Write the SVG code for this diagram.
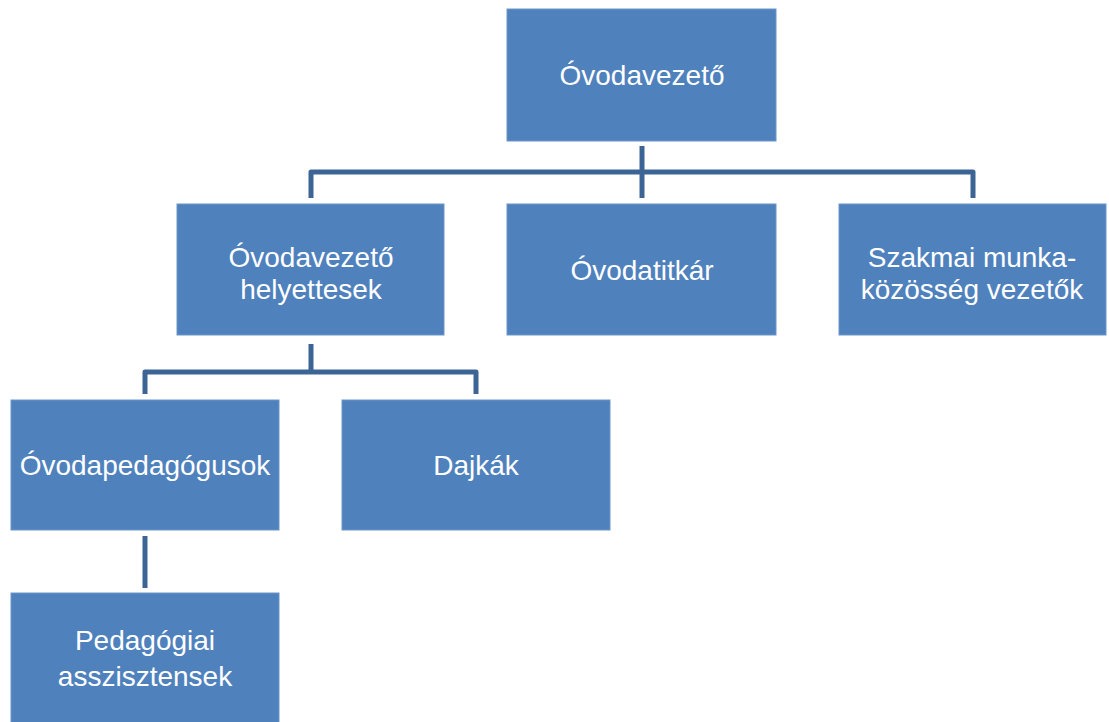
<svg xmlns="http://www.w3.org/2000/svg" width="1109" height="722" viewBox="0 0 1109 722">
<style>
.box{fill:#4f81bd;stroke:#6d95c8;stroke-width:1}
.t{font-family:"Liberation Sans",Arial,sans-serif;font-size:28px;fill:#ffffff;text-anchor:middle}
.c{fill:none;stroke:#3c6595;stroke-width:5;stroke-linejoin:round}
</style>
<rect x="0" y="0" width="1109" height="722" fill="#ffffff"/>
<g id="connectors">
<path class="c" d="M642 146V198M311 198V172H973V198"/>
<path class="c" d="M311 344V372M145 394V372H476V394"/>
<path class="c" d="M145 536V588"/>
</g>
<g id="n-ovodavezeto"><rect class="box" x="507" y="9" width="269" height="132"/><text class="t" x="642" y="85">Óvodavezető</text></g>
<g id="n-helyettesek"><rect class="box" x="177" y="204" width="267" height="131"/><text class="t" x="311" y="267">Óvodavezető</text><text class="t" x="311" y="299">helyettesek</text></g>
<g id="n-titkar"><rect class="box" x="507" y="204" width="269" height="131"/><text class="t" x="642" y="280">Óvodatitkár</text></g>
<g id="n-szakmai"><rect class="box" x="839" y="204" width="267" height="131"/><text class="t" x="972" y="267">Szakmai munka-</text><text class="t" x="972" y="299">közösség vezetők</text></g>
<g id="n-pedagogusok"><rect class="box" x="11" y="400" width="268" height="130"/><text class="t" x="145" y="475">Óvodapedagógusok</text></g>
<g id="n-dajkak"><rect class="box" x="342" y="400" width="268" height="130"/><text class="t" x="476" y="475">Dajkák</text></g>
<g id="n-asszisztensek"><rect class="box" x="11" y="593" width="268" height="135"/><text class="t" x="145" y="650">Pedagógiai</text><text class="t" x="145" y="686">asszisztensek</text></g>
</svg>
